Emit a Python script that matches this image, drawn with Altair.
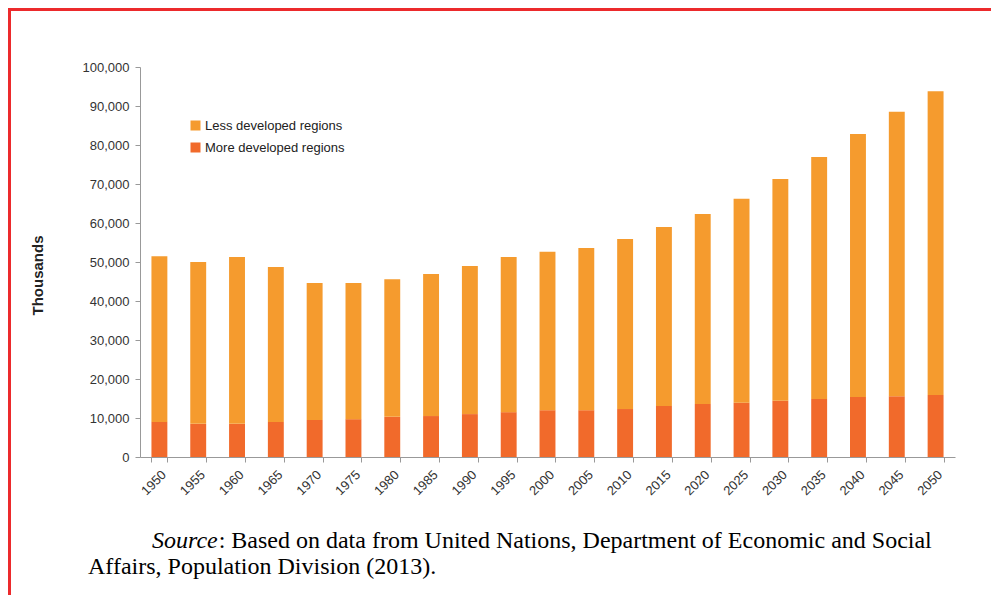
import altair as alt
import pandas as pd

# ---- data (thousands) ----
years = [str(y) for y in range(1950, 2051, 5)]
more_developed = [9000, 8500, 8500, 9000, 9500, 9700, 10300, 10500, 11000, 11500, 12000,
                  12000, 12300, 13100, 13600, 13900, 14400, 14900, 15400, 15600, 15900]
less_developed = [42500, 41500, 42800, 39700, 35100, 34900, 35300, 36400, 38000, 39800, 40600,
                  41600, 43600, 45900, 48700, 52300, 56900, 62000, 67400, 72900, 77900]
series = ["Less developed regions", "More developed regions"]
colors = ["#F59B2E", "#F16A2B"]
y_ticks = list(range(0, 100001, 10000))
y_title = "Thousands"
source_italic = "Source"
source_line1 = ": Based on data from United Nations, Department of Economic and Social"
source_line2 = "Affairs, Population Division (2013)."

rows = []
for i, yr in enumerate(years):
    rows.append({"year": yr, "series": series[1], "value": more_developed[i], "ord": 0})
    rows.append({"year": yr, "series": series[0], "value": less_developed[i], "ord": 1})
df = pd.DataFrame(rows)

# ---- layout ----
W, H = 815, 390
PL, PT = 132, 59
TW, TH = 983, 587
RED = "#EC2A2C"
SANS = "Liberation Sans"
SERIF = "Liberation Serif"
FS = 24

bars = alt.Chart(df).mark_bar().encode(
    x=alt.X("year:N", sort=years,
            scale=alt.Scale(paddingInner=0.59, paddingOuter=0.295),
            axis=alt.Axis(title=None, labelAngle=-45, tickBand="extent", tickSize=5,
                          labelFont=SANS, labelFontSize=13, labelColor="#333333",
                          labelPadding=6, domainColor="#999999", tickColor="#999999")),
    y=alt.Y("value:Q", stack="zero",
            scale=alt.Scale(domain=[0, 100000], nice=False),
            axis=alt.Axis(values=y_ticks, format=",.0f", title=y_title, grid=False,
                          tickSize=5, labelFont=SANS, labelFontSize=13, labelColor="#333333",
                          labelPadding=6, domainColor="#999999", tickColor="#999999",
                          titleFont=SANS, titleFontSize=15, titleFontWeight="bold",
                          titleColor="#222222", titleAngle=-90, titleAlign="center",
                          titleBaseline="middle", titleX=-103, titleY=208)),
    color=alt.Color("series:N", scale=alt.Scale(domain=series, range=colors),
                    legend=alt.Legend(title=None, orient="none", legendX=49, legendY=52,
                                      symbolType="square", symbolSize=100,
                                      symbolStrokeWidth=0, labelFont=SANS,
                                      labelFontSize=13, labelColor="#222222",
                                      rowPadding=8, labelOffset=3)),
    order=alt.Order("ord:Q", sort="ascending"),
)

one = pd.DataFrame({"k": [0]})
top_line = alt.Chart(one).mark_rule(color=RED, strokeWidth=3).encode(
    x=alt.value(-PL), x2=alt.value(TW - PL), y=alt.value(1.5 - PT))
left_line = alt.Chart(one).mark_rule(color=RED, strokeWidth=3).encode(
    x=alt.value(1.5 - PL), y=alt.value(-PT), y2=alt.value(TH - PT))

src_a = alt.Chart(pd.DataFrame({"t": [source_italic]})).mark_text(
    font=SERIF, fontStyle="italic", fontSize=FS, align="left", baseline="alphabetic",
    color="#000000").encode(x=alt.value(152 - 140), y=alt.value(548 - 67), text="t:N")
src_b = alt.Chart(pd.DataFrame({"t": [source_line1]})).mark_text(
    font=SERIF, fontSize=FS, align="left", baseline="alphabetic",
    color="#000000").encode(x=alt.value(152 - 140 + 2.777 * FS), y=alt.value(548 - 67), text="t:N")
src_c = alt.Chart(pd.DataFrame({"t": [source_line2]})).mark_text(
    font=SERIF, fontSize=FS, align="left", baseline="alphabetic",
    color="#000000").encode(x=alt.value(88 - 140), y=alt.value(574 - 67), text="t:N")

chart = alt.layer(bars, top_line, left_line, src_a, src_b, src_c).properties(
    width=W, height=H,
    autosize=alt.AutoSizeParams(type="none"),
    padding={"left": PL, "top": PT, "right": TW - PL - W, "bottom": TH - PT - H},
    background="white",
).configure_view(stroke=None)

chart.save("out.html", embed_options={"renderer": "svg", "actions": False})
